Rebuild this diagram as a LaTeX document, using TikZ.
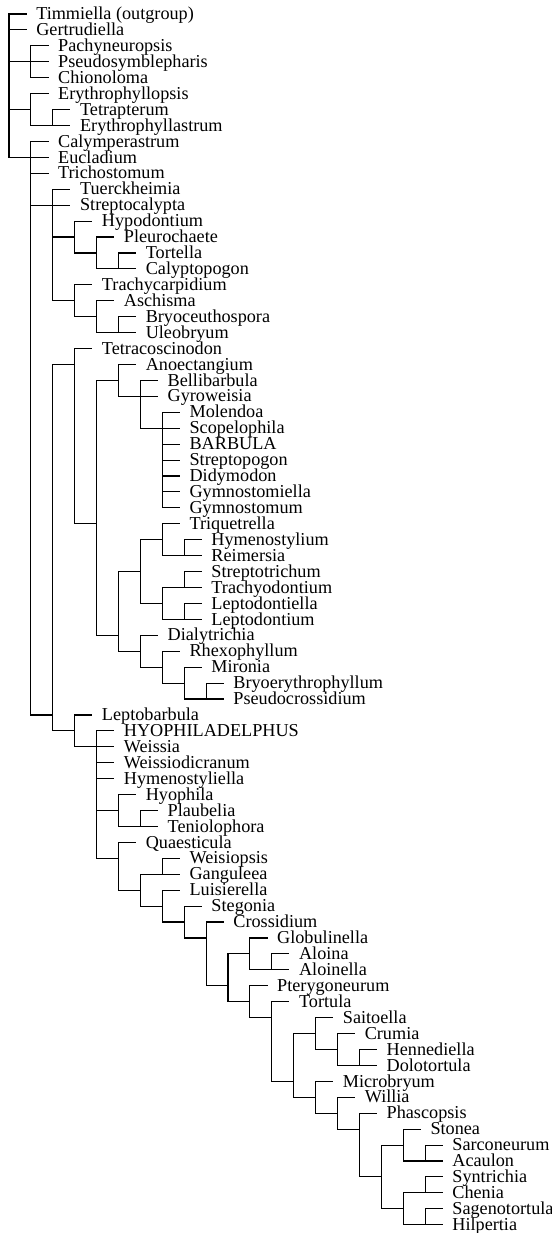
\documentclass[tikz,border=0pt]{standalone}
\usepackage{fontspec}
\setmainfont{Liberation Serif}

\tikzset{
  taxon/.style={anchor=west, inner xsep=10pt, inner ysep=0pt, font=\fontsize{18.2}{18}\selectfont, text height=12.4pt, text depth=1.1pt},
  branch/.style={line width=1.1pt, line cap=rect}
}

\begin{document}
\begin{tikzpicture}[x=21.9pt, y=-15.93pt]
\useasboundingbox (-0.411,-0.879) rectangle (24.75,76.52);

% taxa
\node[taxon] (timm) at (0.78,0) {Timmiella (outgroup)};
\node[taxon] (gert) at (0.78,1) {Gertrudiella};
\node[taxon] (pach) at (1.78,2) {Pachyneuropsis};
\node[taxon] (pseu) at (1.78,3) {Pseudosymblepharis};
\node[taxon] (chio) at (1.78,4) {Chionoloma};
\node[taxon] (eryt) at (1.78,5) {Erythrophyllopsis};
\node[taxon] (tetr) at (2.78,6) {Tetrapterum};
\node[taxon] (erya) at (2.78,7) {Erythrophyllastrum};
\node[taxon] (caly) at (1.78,8) {Calymperastrum};
\node[taxon] (eucl) at (1.78,9) {Eucladium};
\node[taxon] (tric) at (1.78,10) {Trichostomum};
\node[taxon] (tuer) at (2.78,11) {Tuerckheimia};
\node[taxon] (stre) at (2.78,12) {Streptocalypta};
\node[taxon] (hypo) at (3.78,13) {Hypodontium};
\node[taxon] (pleu) at (4.78,14) {Pleurochaete};
\node[taxon] (tort) at (5.78,15) {Tortella};
\node[taxon] (calp) at (5.78,16) {Calyptopogon};
\node[taxon] (trac) at (3.78,17) {Trachycarpidium};
\node[taxon] (asch) at (4.78,18) {Aschisma};
\node[taxon] (bryc) at (5.78,19) {Bryoceuthospora};
\node[taxon] (uleo) at (5.78,20) {Uleobryum};
\node[taxon] (tetc) at (3.78,21) {Tetracoscinodon};
\node[taxon] (anoe) at (5.78,22) {Anoectangium};
\node[taxon] (bell) at (6.78,23) {Bellibarbula};
\node[taxon] (gyro) at (6.78,24) {Gyroweisia};
\node[taxon] (mole) at (7.78,25) {Molendoa};
\node[taxon] (scop) at (7.78,26) {Scopelophila};
\node[taxon] (barb) at (7.78,27) {BARBULA};
\node[taxon] (strp) at (7.78,28) {Streptopogon};
\node[taxon] (didy) at (7.78,29) {Didymodon};
\node[taxon] (gyml) at (7.78,30) {Gymnostomiella};
\node[taxon] (gymn) at (7.78,31) {Gymnostomum};
\node[taxon] (triq) at (7.78,32) {Triquetrella};
\node[taxon] (hyme) at (8.78,33) {Hymenostylium};
\node[taxon] (reim) at (8.78,34) {Reimersia};
\node[taxon] (strt) at (8.78,35) {Streptotrichum};
\node[taxon] (trad) at (8.78,36) {Trachyodontium};
\node[taxon] (lepl) at (8.78,37) {Leptodontiella};
\node[taxon] (lept) at (8.78,38) {Leptodontium};
\node[taxon] (dial) at (6.78,39) {Dialytrichia};
\node[taxon] (rhex) at (7.78,40) {Rhexophyllum};
\node[taxon] (miro) at (8.78,41) {Mironia};
\node[taxon] (brye) at (9.78,42) {Bryoerythrophyllum};
\node[taxon] (psec) at (9.78,43) {Pseudocrossidium};
\node[taxon] (lepb) at (3.78,44) {Leptobarbula};
\node[taxon] (hyop) at (4.78,45) {HYOPHILADELPHUS};
\node[taxon] (weis) at (4.78,46) {Weissia};
\node[taxon] (weid) at (4.78,47) {Weissiodicranum};
\node[taxon] (hyms) at (4.78,48) {Hymenostyliella};
\node[taxon] (hyoa) at (5.78,49) {Hyophila};
\node[taxon] (plau) at (6.78,50) {Plaubelia};
\node[taxon] (teni) at (6.78,51) {Teniolophora};
\node[taxon] (quae) at (5.78,52) {Quaesticula};
\node[taxon] (wesp) at (7.78,53) {Weisiopsis};
\node[taxon] (gang) at (7.78,54) {Ganguleea};
\node[taxon] (luis) at (7.78,55) {Luisierella};
\node[taxon] (steg) at (8.78,56) {Stegonia};
\node[taxon] (cros) at (9.78,57) {Crossidium};
\node[taxon] (glob) at (11.78,58) {Globulinella};
\node[taxon] (aloi) at (12.78,59) {Aloina};
\node[taxon] (alol) at (12.78,60) {Aloinella};
\node[taxon] (pter) at (11.78,61) {Pterygoneurum};
\node[taxon] (tortu) at (12.78,62) {Tortula};
\node[taxon] (sait) at (14.78,63) {Saitoella};
\node[taxon] (crum) at (15.78,64) {Crumia};
\node[taxon] (henn) at (16.78,65) {Hennediella};
\node[taxon] (dolo) at (16.78,66) {Dolotortula};
\node[taxon] (micr) at (14.78,67) {Microbryum};
\node[taxon] (will) at (15.78,68) {Willia};
\node[taxon] (phas) at (16.78,69) {Phascopsis};
\node[taxon] (ston) at (18.78,70) {Stonea};
\node[taxon] (sarc) at (19.78,71) {Sarconeurum};
\node[taxon] (acau) at (19.78,72) {Acaulon};
\node[taxon] (synt) at (19.78,73) {Syntrichia};
\node[taxon] (chen) at (19.78,74) {Chenia};
\node[taxon] (sage) at (19.78,75) {Sagenotortula};
\node[taxon] (hilp) at (19.78,76) {Hilpertia};

% branch points
\coordinate (root) at (0,0);
\coordinate (np1) at (1,3);
\coordinate (ne1) at (1,6);
\coordinate (ne2) at (2,7);
\coordinate (nc1) at (1,9);
\coordinate (nt1) at (2,12);
\coordinate (nt2) at (3,14);
\coordinate (nt4) at (4,15);
\coordinate (nt5) at (5,16);
\coordinate (nt3) at (3,18);
\coordinate (nt6) at (4,19);
\coordinate (nt7) at (5,20);
\coordinate (nm) at (2,44);
\coordinate (nx) at (3,22);
\coordinate (nd) at (4,32);
\coordinate (nc) at (5,23);
\coordinate (nb) at (6,24);
\coordinate (na) at (7,26);
\coordinate (ne) at (5,39);
\coordinate (nf) at (6,35);
\coordinate (nf1) at (7,33);
\coordinate (nf3) at (8,34);
\coordinate (nf2) at (7,37);
\coordinate (nf4) at (8,36);
\coordinate (nf5) at (8,38);
\coordinate (ng) at (6,40);
\coordinate (ng1) at (7,41);
\coordinate (ng2) at (8,42);
\coordinate (ng3) at (9,43);
\coordinate (ny) at (3,45);
\coordinate (nh) at (4,46);
\coordinate (nh1) at (5,50);
\coordinate (nh3) at (6,51);
\coordinate (nh2) at (5,53);
\coordinate (ni2) at (6,55);
\coordinate (ni1) at (7,54);
\coordinate (ni3) at (7,56);
\coordinate (ni4) at (8,57);
\coordinate (ni5) at (9,58);
\coordinate (ni6) at (10,61);
\coordinate (ni7) at (11,59);
\coordinate (ni9) at (12,60);
\coordinate (ni8) at (11,62);
\coordinate (nj) at (12,63);
\coordinate (nk) at (13,67);
\coordinate (nk1) at (14,64);
\coordinate (nk2) at (15,65);
\coordinate (nk3) at (16,66);
\coordinate (nl) at (14,68);
\coordinate (nl1) at (15,69);
\coordinate (nl2) at (16,70);
\coordinate (nl3) at (17,73);
\coordinate (nl4) at (18,71);
\coordinate (nl6) at (19,72);
\coordinate (nl5) at (18,75);
\coordinate (nl7) at (19,74);
\coordinate (nl8) at (19,76);

% branches
\draw[branch] (root |- timm.west)--(root |- nc1) (root |- timm.west)--(timm.west) (root |- gert.west)--(gert.west) (root |- np1)--(np1) (root |- ne1)--(ne1) (root |- nc1)--(nc1);
\draw[branch] (np1 |- pach.west)--(np1 |- chio.west) (np1 |- pach.west)--(pach.west) (np1 |- pseu.west)--(pseu.west) (np1 |- chio.west)--(chio.west);
\draw[branch] (ne1 |- eryt.west)--(ne1 |- ne2) (ne1 |- eryt.west)--(eryt.west) (ne1 |- ne2)--(ne2);
\draw[branch] (ne2 |- tetr.west)--(ne2 |- erya.west) (ne2 |- tetr.west)--(tetr.west) (ne2 |- erya.west)--(erya.west);
\draw[branch] (nc1 |- caly.west)--(nc1 |- nm) (nc1 |- caly.west)--(caly.west) (nc1 |- eucl.west)--(eucl.west) (nc1 |- tric.west)--(tric.west) (nc1 |- nt1)--(nt1) (nc1 |- nm)--(nm);
\draw[branch] (nt1 |- tuer.west)--(nt1 |- nt3) (nt1 |- tuer.west)--(tuer.west) (nt1 |- stre.west)--(stre.west) (nt1 |- nt2)--(nt2) (nt1 |- nt3)--(nt3);
\draw[branch] (nt2 |- hypo.west)--(nt2 |- nt4) (nt2 |- hypo.west)--(hypo.west) (nt2 |- nt4)--(nt4);
\draw[branch] (nt4 |- pleu.west)--(nt4 |- nt5) (nt4 |- pleu.west)--(pleu.west) (nt4 |- nt5)--(nt5);
\draw[branch] (nt5 |- tort.west)--(nt5 |- calp.west) (nt5 |- tort.west)--(tort.west) (nt5 |- calp.west)--(calp.west);
\draw[branch] (nt3 |- trac.west)--(nt3 |- nt6) (nt3 |- trac.west)--(trac.west) (nt3 |- nt6)--(nt6);
\draw[branch] (nt6 |- asch.west)--(nt6 |- nt7) (nt6 |- asch.west)--(asch.west) (nt6 |- nt7)--(nt7);
\draw[branch] (nt7 |- bryc.west)--(nt7 |- uleo.west) (nt7 |- bryc.west)--(bryc.west) (nt7 |- uleo.west)--(uleo.west);
\draw[branch] (nm |- nx)--(nm |- ny) (nm |- nx)--(nx) (nm |- ny)--(ny);
\draw[branch] (nx |- tetc.west)--(nx |- nd) (nx |- tetc.west)--(tetc.west) (nx |- nd)--(nd);
\draw[branch] (nd |- nc)--(nd |- ne) (nd |- nc)--(nc) (nd |- ne)--(ne);
\draw[branch] (nc |- anoe.west)--(nc |- nb) (nc |- anoe.west)--(anoe.west) (nc |- nb)--(nb);
\draw[branch] (nb |- bell.west)--(nb |- na) (nb |- bell.west)--(bell.west) (nb |- gyro.west)--(gyro.west) (nb |- na)--(na);
\draw[branch] (na |- mole.west)--(na |- gymn.west) (na |- mole.west)--(mole.west) (na |- scop.west)--(scop.west) (na |- barb.west)--(barb.west) (na |- strp.west)--(strp.west) (na |- didy.west)--(didy.west) (na |- gyml.west)--(gyml.west) (na |- gymn.west)--(gymn.west);
\draw[branch] (ne |- nf)--(ne |- ng) (ne |- nf)--(nf) (ne |- ng)--(ng);
\draw[branch] (nf |- nf1)--(nf |- nf2) (nf |- nf1)--(nf1) (nf |- nf2)--(nf2);
\draw[branch] (nf1 |- triq.west)--(nf1 |- nf3) (nf1 |- triq.west)--(triq.west) (nf1 |- nf3)--(nf3);
\draw[branch] (nf3 |- hyme.west)--(nf3 |- reim.west) (nf3 |- hyme.west)--(hyme.west) (nf3 |- reim.west)--(reim.west);
\draw[branch] (nf2 |- nf4)--(nf2 |- nf5) (nf2 |- nf4)--(nf4) (nf2 |- nf5)--(nf5);
\draw[branch] (nf4 |- strt.west)--(nf4 |- trad.west) (nf4 |- strt.west)--(strt.west) (nf4 |- trad.west)--(trad.west);
\draw[branch] (nf5 |- lepl.west)--(nf5 |- lept.west) (nf5 |- lepl.west)--(lepl.west) (nf5 |- lept.west)--(lept.west);
\draw[branch] (ng |- dial.west)--(ng |- ng1) (ng |- dial.west)--(dial.west) (ng |- ng1)--(ng1);
\draw[branch] (ng1 |- rhex.west)--(ng1 |- ng2) (ng1 |- rhex.west)--(rhex.west) (ng1 |- ng2)--(ng2);
\draw[branch] (ng2 |- miro.west)--(ng2 |- ng3) (ng2 |- miro.west)--(miro.west) (ng2 |- ng3)--(ng3);
\draw[branch] (ng3 |- brye.west)--(ng3 |- psec.west) (ng3 |- brye.west)--(brye.west) (ng3 |- psec.west)--(psec.west);
\draw[branch] (ny |- lepb.west)--(ny |- nh) (ny |- lepb.west)--(lepb.west) (ny |- nh)--(nh);
\draw[branch] (nh |- hyop.west)--(nh |- nh2) (nh |- hyop.west)--(hyop.west) (nh |- weis.west)--(weis.west) (nh |- weid.west)--(weid.west) (nh |- hyms.west)--(hyms.west) (nh |- nh1)--(nh1) (nh |- nh2)--(nh2);
\draw[branch] (nh1 |- hyoa.west)--(nh1 |- nh3) (nh1 |- hyoa.west)--(hyoa.west) (nh1 |- nh3)--(nh3);
\draw[branch] (nh3 |- plau.west)--(nh3 |- teni.west) (nh3 |- plau.west)--(plau.west) (nh3 |- teni.west)--(teni.west);
\draw[branch] (nh2 |- quae.west)--(nh2 |- ni2) (nh2 |- quae.west)--(quae.west) (nh2 |- ni2)--(ni2);
\draw[branch] (ni2 |- ni1)--(ni2 |- ni3) (ni2 |- ni1)--(ni1) (ni2 |- ni3)--(ni3);
\draw[branch] (ni1 |- wesp.west)--(ni1 |- gang.west) (ni1 |- wesp.west)--(wesp.west) (ni1 |- gang.west)--(gang.west);
\draw[branch] (ni3 |- luis.west)--(ni3 |- ni4) (ni3 |- luis.west)--(luis.west) (ni3 |- ni4)--(ni4);
\draw[branch] (ni4 |- steg.west)--(ni4 |- ni5) (ni4 |- steg.west)--(steg.west) (ni4 |- ni5)--(ni5);
\draw[branch] (ni5 |- cros.west)--(ni5 |- ni6) (ni5 |- cros.west)--(cros.west) (ni5 |- ni6)--(ni6);
\draw[branch] (ni6 |- ni7)--(ni6 |- ni8) (ni6 |- ni7)--(ni7) (ni6 |- ni8)--(ni8);
\draw[branch] (ni7 |- glob.west)--(ni7 |- ni9) (ni7 |- glob.west)--(glob.west) (ni7 |- ni9)--(ni9);
\draw[branch] (ni9 |- aloi.west)--(ni9 |- alol.west) (ni9 |- aloi.west)--(aloi.west) (ni9 |- alol.west)--(alol.west);
\draw[branch] (ni8 |- pter.west)--(ni8 |- nj) (ni8 |- pter.west)--(pter.west) (ni8 |- nj)--(nj);
\draw[branch] (nj |- tortu.west)--(nj |- nk) (nj |- tortu.west)--(tortu.west) (nj |- nk)--(nk);
\draw[branch] (nk |- nk1)--(nk |- nl) (nk |- nk1)--(nk1) (nk |- nl)--(nl);
\draw[branch] (nk1 |- sait.west)--(nk1 |- nk2) (nk1 |- sait.west)--(sait.west) (nk1 |- nk2)--(nk2);
\draw[branch] (nk2 |- crum.west)--(nk2 |- nk3) (nk2 |- crum.west)--(crum.west) (nk2 |- nk3)--(nk3);
\draw[branch] (nk3 |- henn.west)--(nk3 |- dolo.west) (nk3 |- henn.west)--(henn.west) (nk3 |- dolo.west)--(dolo.west);
\draw[branch] (nl |- micr.west)--(nl |- nl1) (nl |- micr.west)--(micr.west) (nl |- nl1)--(nl1);
\draw[branch] (nl1 |- will.west)--(nl1 |- nl2) (nl1 |- will.west)--(will.west) (nl1 |- nl2)--(nl2);
\draw[branch] (nl2 |- phas.west)--(nl2 |- nl3) (nl2 |- phas.west)--(phas.west) (nl2 |- nl3)--(nl3);
\draw[branch] (nl3 |- nl4)--(nl3 |- nl5) (nl3 |- nl4)--(nl4) (nl3 |- nl5)--(nl5);
\draw[branch] (nl4 |- ston.west)--(nl4 |- nl6) (nl4 |- ston.west)--(ston.west) (nl4 |- nl6)--(nl6);
\draw[branch] (nl6 |- sarc.west)--(nl6 |- acau.west) (nl6 |- sarc.west)--(sarc.west) (nl6 |- acau.west)--(acau.west);
\draw[branch] (nl5 |- nl7)--(nl5 |- nl8) (nl5 |- nl7)--(nl7) (nl5 |- nl8)--(nl8);
\draw[branch] (nl7 |- synt.west)--(nl7 |- chen.west) (nl7 |- synt.west)--(synt.west) (nl7 |- chen.west)--(chen.west);
\draw[branch] (nl8 |- sage.west)--(nl8 |- hilp.west) (nl8 |- sage.west)--(sage.west) (nl8 |- hilp.west)--(hilp.west);
\end{tikzpicture}
\end{document}
